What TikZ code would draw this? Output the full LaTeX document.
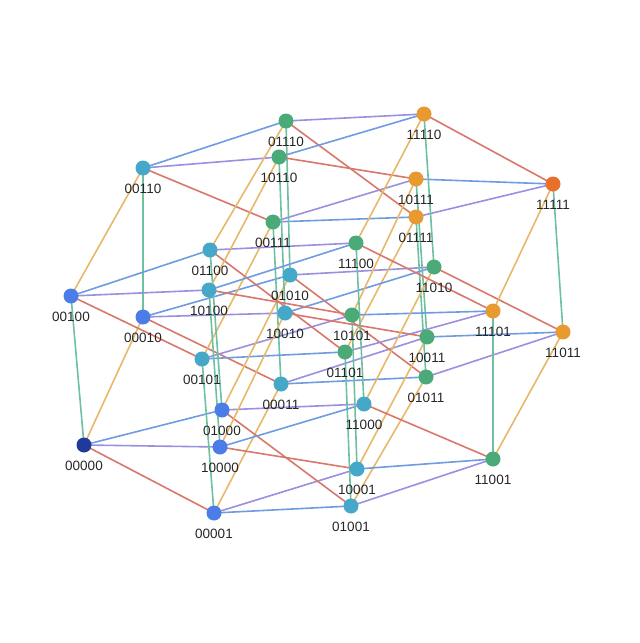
\documentclass[tikz,border=0pt]{standalone}
\usepackage{fontspec}
\setmainfont{Liberation Sans}
\usetikzlibrary{backgrounds}
\definecolor{c0}{HTML}{1F3A9A}\definecolor{c1}{HTML}{4A7DE8}\definecolor{c2}{HTML}{45A8C8}
\definecolor{c3}{HTML}{4AAA78}\definecolor{c4}{HTML}{E89A30}\definecolor{c5}{HTML}{E8702A}
\definecolor{er}{HTML}{D9776B}\definecolor{eo}{HTML}{E8B86A}\definecolor{eg}{HTML}{6FC0A0}
\definecolor{eb}{HTML}{6F9BE0}\definecolor{ep}{HTML}{9B8FE0}
\begin{document}
\begin{tikzpicture}[x=1pt,y=-1pt,
 v/.style={circle,inner sep=0pt,minimum size=15pt,fill=#1},
 lab/.style={font=\fontsize{13.5}{13.5}\selectfont,text=black!85},
 edge/.style={line width=1.6pt,draw=#1}]
\useasboundingbox (0,0) rectangle (640,643);
\foreach \n/\x/\y/\l/\c in {
0/84/445/00000/c0,1/214/513/00001/c1,2/143/317/00010/c1,3/281/384/00011/c2,
4/71/296/00100/c1,5/202/359/00101/c2,6/143/168/00110/c2,7/273/222/00111/c3,
8/222/410/01000/c1,9/351/506/01001/c2,10/290/275/01010/c2,11/426/377/01011/c3,
12/210/250/01100/c2,13/345/352/01101/c3,14/286/121/01110/c3,15/416/217/01111/c4,
16/220/447/10000/c1,17/357/469/10001/c2,18/285/313/10010/c2,19/427/337/10011/c3,
20/209/290/10100/c2,21/352/315/10101/c3,22/279/157/10110/c3,23/416/179/10111/c4,
24/364/404/11000/c2,25/493/459/11001/c3,26/434/267/11010/c3,27/563/332/11011/c4,
28/356/243/11100/c3,29/493/311/11101/c4,30/424/114/11110/c4,31/553/184/11111/c5}{
 \node[v=\c] (n\n) at (\x,\y) {};
 \node[lab] (t\n) at (\x,\y+21) {\l};
}
\begin{scope}[on background layer]
\foreach \n in {0,...,31}{
 \foreach \k/\c in {0/er,1/eo,2/eg,3/eb,4/ep}{
  \pgfmathtruncatemacro\b{mod(floor(\n/(2^\k)),2)}
  \ifnum\b=0
   \pgfmathtruncatemacro\m{\n+2^\k}
   \draw[edge=\c] (n\n.center) -- (n\m.center);
  \fi
 }}
\end{scope}
\end{tikzpicture}
\end{document}
